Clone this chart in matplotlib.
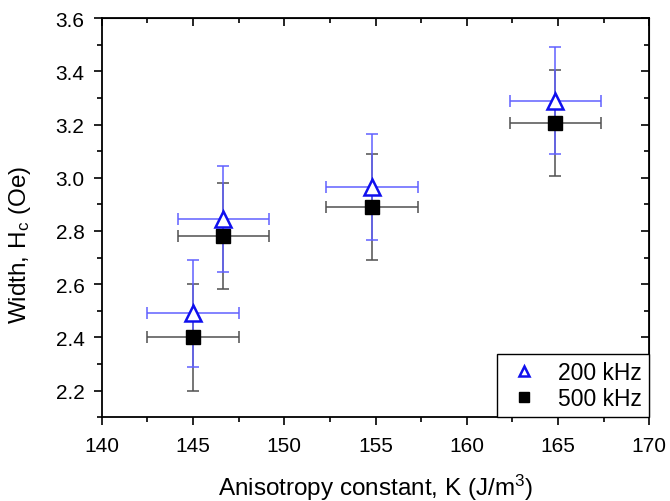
import matplotlib
matplotlib.use("Agg")
import matplotlib.pyplot as plt
from matplotlib.ticker import MultipleLocator, FormatStrFormatter

plt.rcParams['font.family'] = ['Liberation Sans', 'DejaVu Sans']
plt.rcParams['mathtext.fontset'] = 'custom'
plt.rcParams['mathtext.rm'] = 'Liberation Sans'
plt.rcParams['mathtext.it'] = 'Liberation Sans:italic'

K = [145.0, 146.65, 154.8, 164.85]
xerr = [2.5, 2.5, 2.5, 2.5]
h200 = [2.49, 2.845, 2.965, 3.29]
h500 = [2.40, 2.78, 2.89, 3.205]
yerr200 = [0.2, 0.2, 0.2, 0.2]
yerr500 = [0.2, 0.2, 0.2, 0.2]
labels = ["200 kHz", "500 kHz"]

fig = plt.figure(figsize=(6.7, 5.02), dpi=100)
ax = fig.add_axes([0.152, 0.167, 0.817, 0.795])

ax.errorbar(K, h500, xerr=xerr, yerr=yerr500, fmt='none', ecolor='#505050',
            elinewidth=1.1, capsize=4, capthick=1.1, zorder=2)
ax.errorbar(K, h200, xerr=xerr, yerr=yerr200, fmt='none', ecolor='#6060ff',
            elinewidth=1.1, capsize=4, capthick=1.1, zorder=3)
ax.plot(K, h500, 's', color='black', markersize=10, label=labels[1], zorder=4)
ax.plot(K, h200, '^', markerfacecolor='white', markeredgecolor='#1010ee',
        markeredgewidth=1.8, markersize=12, linestyle='none', label=labels[0], zorder=5)

ax.set_xlim(140, 170)
ax.set_ylim(2.1, 3.6)
ax.xaxis.set_major_locator(MultipleLocator(5))
ax.xaxis.set_minor_locator(MultipleLocator(2.5))
ax.yaxis.set_major_locator(MultipleLocator(0.2))
ax.yaxis.set_minor_locator(MultipleLocator(0.1))
ax.yaxis.set_major_formatter(FormatStrFormatter('%.1f'))

ax.tick_params(which='both', direction='out', top=False, right=False,
               labelsize=15, width=1.2)
ax.tick_params(which='major', length=5.5)
ax.tick_params(which='minor', length=3.5)
ax.tick_params(axis='x', which='major', pad=8)
ax.tick_params(axis='y', which='major', pad=7)
axt = ax.secondary_xaxis('top')
axt.xaxis.set_major_locator(MultipleLocator(5))
axt.xaxis.set_minor_locator(MultipleLocator(2.5))
axt.tick_params(which='both', direction='in', labeltop=False, width=1.2)
axt.tick_params(which='major', length=5.5)
axt.tick_params(which='minor', length=3.5)
axr = ax.secondary_yaxis('right')
axr.yaxis.set_major_locator(MultipleLocator(0.2))
axr.yaxis.set_minor_locator(MultipleLocator(0.1))
axr.tick_params(which='both', direction='in', labelright=False, width=1.2)
axr.tick_params(which='major', length=5.5)
axr.tick_params(which='minor', length=3.5)
for s in ax.spines.values():
    s.set_linewidth(1.3)

ax.set_xlabel('Anisotropy constant, K (J/m$^3$)', fontsize=17.5, labelpad=12)
ax.set_ylabel('Width, H$_\\mathrm{c}$ (Oe)', fontsize=17.5)
ax.yaxis.set_label_coords(-0.125, 0.434)

h, l = ax.get_legend_handles_labels()
leg = ax.legend(h[::-1], l[::-1], loc='lower right', fontsize=16.5, fancybox=False,
                edgecolor='black', framealpha=1, borderaxespad=0,
                markerscale=0.65, handlelength=1.8, handletextpad=0.6,
                borderpad=0.3, labelspacing=0.15)
leg.get_frame().set_linewidth(1.0)

fig.savefig('out.png', dpi=100)
